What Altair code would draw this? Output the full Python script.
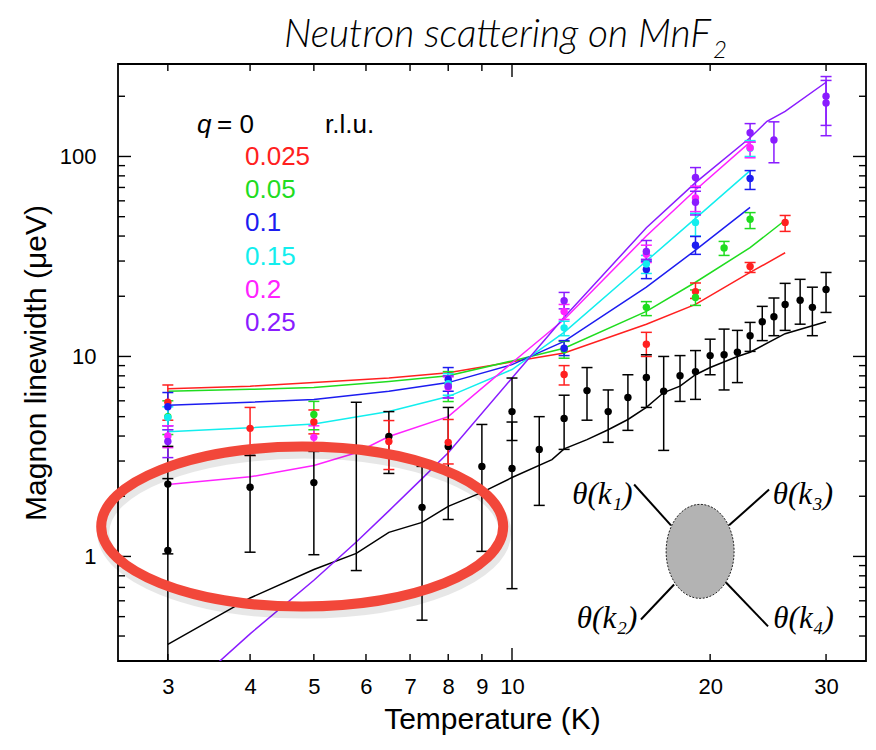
import altair as alt
import pandas as pd

# ---------------- data ----------------
series = ["0", "0.025", "0.05", "0.1", "0.15", "0.2", "0.25"]
colors = ["#000000", "#ff2020", "#1fdc1f", "#1c1cf0", "#12eeee", "#ff22ff", "#8a1cff"]

# q = 0 (black)
q0_T = [3, 3, 4, 5, 5.8, 6.5, 7.3, 8, 9, 10, 10, 11, 12, 13, 14, 15, 16, 17, 18, 19, 20, 21, 22, 23, 24, 25, 26, 27.4, 28.6, 30]
q0_W = [1.07, 2.3, 2.22, 2.34, 3.4, 3.98, 1.76, 3.55, 2.82, 5.3, 2.75, 3.43, 4.9, 6.75, 5.3, 6.23, 7.85, 6.7, 8.0, 8.4, 10.1, 10.2, 10.5, 12.7, 14.9, 15.8, 18.2, 19.1, 17.6, 21.6]
q0_lo = [0.1, 1.03, 1.05, 1.02, 0.85, 2.6, 0.48, 1.53, 1.06, 3.8, 0.69, 1.8, 3.43, 4.8, 3.72, 4.27, 5.56, 3.39, 5.96, 6.1, 8.1, 6.8, 7.4, 10.6, 12.0, 12.7, 13.5, 14.5, 12.7, 16.6]
q0_hi = [2.45, 3.55, 3.2, 3.35, 5.9, 5.3, 2.82, 5.56, 4.57, 7.8, 4.7, 5.0, 6.4, 8.8, 6.8, 8.1, 10.2, 10.0, 10.1, 10.7, 12.2, 13.7, 13.5, 14.8, 17.8, 19.6, 23.2, 24.3, 22.2, 26.3]

# q = 0.025 (red)
q1_T = [3, 4, 5, 6.5, 8, 12, 16, 19, 23, 26]
q1_W = [5.9, 4.37, 4.7, 3.76, 3.72, 8.13, 11.5, 21.1, 28.2, 46.8]
q1_lo = [4.8, 3.2, 4.1, 2.72, 2.9, 7.2, 10.0, 19.5, 26.3, 42.2]
q1_hi = [7.2, 5.56, 5.4, 4.78, 4.84, 9.0, 13.2, 23.3, 29.5, 50.7]

# q = 0.05 (green)
q2_T = [3, 5, 8, 12, 16, 19, 21, 23]
q2_W = [5.0, 5.13, 7.3, 10.8, 17.6, 19.7, 34.9, 48.5]
q2_lo = [4.07, 4.3, 5.95, 9.8, 16.0, 18.0, 32.0, 43.6]
q2_hi = [6.0, 5.96, 8.4, 11.9, 18.8, 21.5, 37.6, 52.4]

# q = 0.1 (blue)
q3_T = [3, 8, 12, 16, 19, 23]
q3_W = [5.6, 7.67, 11.0, 27.2, 36.0, 77.6]
q3_lo = [4.5, 6.7, 10.1, 24.5, 32.4, 68.4]
q3_hi = [6.6, 8.8, 12.0, 30.0, 39.8, 85.0]

# q = 0.15 (cyan)
q4_T = [3, 8, 12, 16, 19, 23]
q4_W = [4.95, 7.3, 13.9, 29.0, 46.8, 110.0]
q4_lo = [4.3, 6.4, 12.7, 26.0, 40.0, 100.0]
q4_hi = [5.6, 8.2, 15.0, 32.0, 52.0, 120.0]

# q = 0.2 (magenta)
q5_T = [3, 5, 8, 12, 16, 19, 23]
q5_W = [4.0, 3.94, 7.0, 16.8, 32.4, 62.0, 110.5]
q5_lo = [3.5, 3.43, 6.2, 15.3, 29.5, 53.0, 98.5]
q5_hi = [4.5, 4.5, 7.9, 18.2, 36.0, 71.0, 118.0]

# q = 0.25 (purple)
q6_T = [3, 8, 12, 16, 19, 19, 23, 25, 30, 30]
q6_W = [3.76, 7.1, 19.0, 33.5, 78.5, 59.0, 131.5, 121.0, 200.0, 185.0]
q6_lo = [3.12, 6.2, 17.3, 30.6, 70.0, 51.0, 118.0, 93.0, 143.0, 127.0]
q6_hi = [4.3, 8.0, 20.9, 38.0, 88.0, 67.0, 146.0, 149.0, 251.0, 240.0]

# theory curves
th0_T = [3, 4, 5, 5.8, 6.5, 7.3, 8, 9, 10, 11.5, 12, 13, 14, 15, 16, 17, 18, 19, 20, 22, 23, 26, 30]
th0_W = [0.363, 0.62, 0.86, 1.035, 1.32, 1.48, 1.78, 2.09, 2.48, 3.05, 3.45, 3.84, 4.3, 4.84, 5.56, 6.6, 7.1, 8.1, 8.8, 10.0, 10.5, 13.0, 14.9]
th1_T = [3, 4, 5, 6.5, 8, 10, 12, 16, 19, 23, 26]
th1_W = [6.9, 7.1, 7.4, 7.8, 8.3, 9.4, 10.4, 14.5, 18.2, 26.3, 33.0]
th2_T = [3, 4, 5, 6.5, 8, 10, 12, 16, 19, 23, 26]
th2_W = [6.7, 6.85, 7.0, 7.5, 8.0, 9.5, 11.0, 16.8, 23.5, 35.0, 48.0]
th3_T = [3, 4, 5, 6.5, 8, 10, 12, 16, 19, 23]
th3_W = [5.7, 5.9, 6.1, 6.7, 7.4, 9.1, 11.9, 22.2, 34.0, 55.6]
th4_T = [3, 4, 5, 6.5, 8, 10, 12, 16, 19, 23]
th4_W = [4.2, 4.4, 4.6, 5.3, 6.3, 8.6, 13.2, 30.0, 49.0, 85.0]
th5_T = [3, 4, 5, 5.8, 6.5, 8, 10, 12, 16, 19, 23]
th5_W = [2.29, 2.5, 2.85, 3.3, 3.98, 5.0, 9.3, 15.3, 40.0, 68.0, 118.0]
th6_T = [3, 4, 5, 5.8, 6.5, 7.3, 8, 10, 12, 16, 19, 23, 24.4, 26, 30]
th6_W = [0.175, 0.41, 0.76, 1.18, 1.69, 2.45, 3.3, 7.8, 15.7, 44.0, 74.0, 124.0, 150.0, 168.0, 235.0]

# axis ticks
x_tick_labels = [3, 4, 5, 6, 7, 8, 9, 10, 20, 30]
x_minor = [3, 4, 5, 6, 7, 8, 9, 20, 30]
x_major = [10]
y_tick_labels = [1, 10, 100]
y_major = [1, 10, 100]
y_minor = [0.4, 0.5, 0.6, 0.7, 0.8, 0.9, 2, 3, 4, 5, 6, 7, 8, 9, 20, 30, 40, 50, 60, 70, 80, 90, 200]

# annotations (in data coordinates)
circle_T, circle_W = [4.80], [1.41]
blob_T, blob_W = [19.31], [1.06]
leg_T1 = [15.33, 21.37, 15.70, 21.14]
leg_W1 = [2.29, 1.43, 0.484, 0.741]
leg_T2 = [17.44, 24.58, 17.63, 24.49]
leg_W2 = [1.43, 2.16, 0.724, 0.447]
lab_text = ["θ(k₁)", "θ(k₃)", "θ(k₂)", "θ(k₄)"]
lab_T = [15.25, 24.9, 15.5, 24.95]
lab_W = [2.04, 2.04, 0.484, 0.484]
lab_align = ["right", "left", "right", "left"]

# ---------------- build tables ----------------
pts_parts = []
for s, T, Wv, lo, hi in [
    ("0", q0_T, q0_W, q0_lo, q0_hi), ("0.025", q1_T, q1_W, q1_lo, q1_hi),
    ("0.05", q2_T, q2_W, q2_lo, q2_hi), ("0.1", q3_T, q3_W, q3_lo, q3_hi),
    ("0.15", q4_T, q4_W, q4_lo, q4_hi), ("0.2", q5_T, q5_W, q5_lo, q5_hi),
    ("0.25", q6_T, q6_W, q6_lo, q6_hi)]:
    pts_parts.append(pd.DataFrame({"T": T, "W": Wv, "lo": lo, "hi": hi, "s": s}))
pts = pd.concat(pts_parts, ignore_index=True)

line_parts = []
for s, T, Wv in [("0", th0_T, th0_W), ("0.025", th1_T, th1_W), ("0.05", th2_T, th2_W),
                 ("0.1", th3_T, th3_W), ("0.15", th4_T, th4_W), ("0.2", th5_T, th5_W),
                 ("0.25", th6_T, th6_W)]:
    line_parts.append(pd.DataFrame({"T": T, "W": Wv, "s": s}))
lines = pd.concat(line_parts, ignore_index=True)

PW, PH = 748, 597
xs = alt.Scale(type="log", domain=[2.52, 34.5], nice=False)
ys = alt.Scale(type="log", domain=[0.3, 290], nice=False)
xaxis = alt.Axis(values=x_tick_labels, format="~g", title="Temperature (K)",
                 labelPadding=15, titlePadding=7)
yaxis = alt.Axis(values=y_tick_labels, format="~g", title="Magnon linewidth (μeV)",
                 labelPadding=22, titlePadding=8)
col = alt.Color("s:N", scale=alt.Scale(domain=series, range=colors), legend=None)


def X(f):
    return alt.X(f"{f}:Q", scale=xs, axis=xaxis)


def Y(f):
    return alt.Y(f"{f}:Q", scale=ys, axis=yaxis)


theory = alt.Chart(lines).mark_line(strokeWidth=1.5, clip=True).encode(
    x=X("T"), y=Y("W"), color=col, detail="s:N", order="T:Q")
bars = alt.Chart(pts).mark_rule(strokeWidth=1.5, clip=True).encode(
    x=X("T"), y=Y("lo"), y2="hi:Q", color=col)
cap_lo = alt.Chart(pts).mark_tick(orient="horizontal", size=11, thickness=1.5, clip=True, opacity=1).encode(
    x=X("T"), y=Y("lo"), color=col)
cap_hi = alt.Chart(pts).mark_tick(orient="horizontal", size=11, thickness=1.5, clip=True, opacity=1).encode(
    x=X("T"), y=Y("hi"), color=col)
dots = alt.Chart(pts).mark_circle(size=55, opacity=1, clip=True).encode(
    x=X("T"), y=Y("W"), color=col)

# inward ticks on all four sides
xmin_df = pd.DataFrame({"v": x_minor})
xmaj_df = pd.DataFrame({"v": x_major})
ymin_df = pd.DataFrame({"v": y_minor})
ymaj_df = pd.DataFrame({"v": y_major})
tk = dict(color="black", strokeWidth=1.4)
ticks = [
    alt.Chart(xmin_df).mark_rule(**tk).encode(x=X("v"), y=alt.value(PH), y2=alt.value(PH - 7)),
    alt.Chart(xmin_df).mark_rule(**tk).encode(x=X("v"), y=alt.value(0), y2=alt.value(7)),
    alt.Chart(xmaj_df).mark_rule(**tk).encode(x=X("v"), y=alt.value(PH), y2=alt.value(PH - 13)),
    alt.Chart(xmaj_df).mark_rule(**tk).encode(x=X("v"), y=alt.value(0), y2=alt.value(13)),
    alt.Chart(ymin_df).mark_rule(**tk).encode(y=Y("v"), x=alt.value(0), x2=alt.value(7)),
    alt.Chart(ymin_df).mark_rule(**tk).encode(y=Y("v"), x=alt.value(PW), x2=alt.value(PW - 7)),
    alt.Chart(ymaj_df).mark_rule(**tk).encode(y=Y("v"), x=alt.value(0), x2=alt.value(13)),
    alt.Chart(ymaj_df).mark_rule(**tk).encode(y=Y("v"), x=alt.value(PW), x2=alt.value(PW - 13)),
]

# red ellipse annotation
ell_path = "M -1 0 A 1 0.398 0 1 0 1 0 A 1 0.398 0 1 0 -1 0 Z"
circ_df = pd.DataFrame({"T": circle_T, "W": circle_W})
shadow = alt.Chart(circ_df).mark_point(shape=ell_path, size=402 ** 2, filled=False, stroke="#000000",
                                       strokeWidth=12, opacity=0.09, xOffset=2, yOffset=6).encode(
    x=X("T"), y=Y("W"))
ellipse = alt.Chart(circ_df).mark_point(shape=ell_path, size=402 ** 2, filled=False, stroke="#f2473a",
                                        strokeWidth=10, opacity=1).encode(x=X("T"), y=Y("W"))

# four-point vertex diagram
legs_df = pd.DataFrame({"T": leg_T1, "W": leg_W1, "T2": leg_T2, "W2": leg_W2})
legs = alt.Chart(legs_df).mark_rule(color="black", strokeWidth=2).encode(
    x=X("T"), y=Y("W"), x2="T2:Q", y2="W2:Q")
blob_path = "M -0.723 0 A 0.723 1 0 1 0 0.723 0 A 0.723 1 0 1 0 -0.723 0 Z"
blob_df = pd.DataFrame({"T": blob_T, "W": blob_W})
blob = alt.Chart(blob_df).mark_point(shape=blob_path, size=94 ** 2, filled=True, fill="#b3b3b3",
                                     stroke="#222222", strokeWidth=1, strokeDash=[2, 1.5], opacity=1,
                                     fillOpacity=1).encode(x=X("T"), y=Y("W"))
lab_layers = []
for t, T, Wv, a in zip(lab_text, lab_T, lab_W, lab_align):
    lab_layers.append(
        alt.Chart(pd.DataFrame({"T": [T], "W": [Wv]})).mark_text(
            text=t, align=a, baseline="middle", font="Liberation Serif", fontStyle="italic",
            fontSize=31, color="black").encode(x=X("T"), y=Y("W")))

# legend text block (pixel positions relative to the plot area)
one = pd.DataFrame({"a": [0]})
leg_labels = series[1:]
leg_colors = colors[1:]
texts = [
    alt.Chart(one).mark_text(text="q", align="left", baseline="middle", font="Liberation Sans",
                             fontStyle="italic", fontSize=26, color="black").encode(
        x=alt.value(79), y=alt.value(61)),
    alt.Chart(one).mark_text(text="= 0", align="left", baseline="middle", font="Liberation Sans",
                             fontSize=26, color="black").encode(x=alt.value(99), y=alt.value(61)),
    alt.Chart(one).mark_text(text="r.l.u.", align="left", baseline="middle", font="Liberation Sans",
                             fontSize=26, color="black").encode(x=alt.value(207), y=alt.value(61)),
]
for i, (lab, c) in enumerate(zip(leg_labels, leg_colors)):
    texts.append(alt.Chart(one).mark_text(text=lab, align="left", baseline="middle",
                                          font="Liberation Sans", fontSize=26, color=c).encode(
        x=alt.value(127), y=alt.value(93 + 33.2 * i)))

# title (kept fully inside the drawing: baseline low enough for the font's ascent)
texts.append(alt.Chart(one).mark_text(text="Neutron scattering on MnF", align="right",
                                      baseline="alphabetic", font="Lato", fontStyle="italic",
                                      fontWeight=300, fontSize=39, color="black").encode(
    x=alt.value(593), y=alt.value(-17)))
texts.append(alt.Chart(one).mark_text(text="2", align="left", baseline="alphabetic", font="Lato",
                                      fontStyle="italic", fontWeight=300, fontSize=24,
                                      color="black").encode(x=alt.value(595), y=alt.value(-6)))

chart = alt.layer(
    theory, bars, cap_lo, cap_hi, dots, *ticks, shadow, ellipse, legs, blob, *lab_layers, *texts
).properties(
    width=PW, height=PH,
    autosize=alt.AutoSizeParams(type="none"),
    padding={"left": 110, "top": 56, "right": 2, "bottom": 81},
).configure_view(stroke="black", strokeWidth=1.8).configure_axis(
    grid=False, domain=False, ticks=False, tickSize=0,
    labelFont="Liberation Sans", labelFontSize=22, labelColor="black",
    titleFont="Liberation Sans", titleFontSize=30, titleFontWeight="normal", titleColor="black",
)

chart.save("out.html", embed_options={"renderer": "svg", "actions": False})
